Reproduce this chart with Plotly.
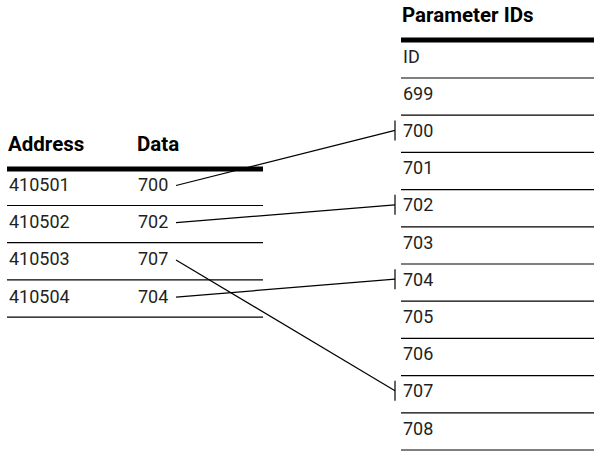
import plotly.graph_objects as go

# 数据
addresses = ["410501", "410502", "410503", "410504"]
data_values = ["700", "702", "707", "704"]
param_ids = ["ID", "699", "700", "701", "702", "703", "704", "705", "706", "707", "708"]

FONT = "Roboto, Liberation Sans, sans-serif"
TEXT_COLOR = "#231f20"
W, H = 594, 451
PITCH = 37.2

# 左表布局
L_X0, L_X1 = 7, 263
L_DATA_X = 136
L_RULE_Y = 169
L_TEXT_Y0 = 184.5

# 右表布局
R_X0, R_X1 = 401, 594
R_RULE_Y = 40
R_TEXT_Y0 = 56
TICK_X = 395
LINE_START_X = 176

fig = go.Figure()
shapes = []
annotations = []


def add_text(x, y, text, bold=False):
    annotations.append(dict(
        x=x, y=y, xref="x", yref="y", text=f"<b>{text}</b>" if bold else text,
        showarrow=False, xanchor="left", yanchor="middle",
        font=dict(family=FONT, size=20.5 if bold else 18,
                  color="#000000" if bold else TEXT_COLOR)
    ))


def add_line(x0, y0, x1, y1, width=1.2):
    shapes.append(dict(type="line", x0=x0, y0=y0, x1=x1, y1=y1, xref="x", yref="y",
                       line=dict(color="#000000", width=width)))


# 左表
add_text(L_X0 - 1, L_RULE_Y - 25, "Address", bold=True)
add_text(L_DATA_X - 1, L_RULE_Y - 25, "Data", bold=True)
add_line(L_X0, L_RULE_Y, L_X1, L_RULE_Y, width=5)
for j, (addr, val) in enumerate(zip(addresses, data_values)):
    y = L_TEXT_Y0 + j * PITCH
    add_text(L_X0, y, addr)
    add_text(L_DATA_X, y, val)
    add_line(L_X0, L_RULE_Y + 36.5 + j * PITCH, L_X1, L_RULE_Y + 36.5 + j * PITCH)

# 右表
add_text(R_X0 - 1, R_RULE_Y - 25, "Parameter IDs", bold=True)
add_line(R_X0, R_RULE_Y, R_X1, R_RULE_Y, width=5)
for i, pid in enumerate(param_ids):
    y = R_TEXT_Y0 + i * PITCH
    add_text(R_X0, y, pid)
    add_line(R_X0, R_RULE_Y + 38 + i * PITCH, R_X1, R_RULE_Y + 38 + i * PITCH)

# 连接线
for j, val in enumerate(data_values):
    i = param_ids.index(val)
    y0 = L_TEXT_Y0 + j * PITCH + 1
    y1 = R_TEXT_Y0 + i * PITCH
    fig.add_trace(go.Scatter(x=[LINE_START_X, TICK_X], y=[y0, y1], mode="lines",
                             line=dict(color="#000000", width=1.2),
                             hoverinfo="skip", showlegend=False))
    add_line(TICK_X, y1 - 10, TICK_X, y1 + 10)

fig.update_layout(
    width=W, height=H,
    margin=dict(l=0, r=0, t=0, b=0),
    paper_bgcolor="white", plot_bgcolor="white",
    xaxis=dict(range=[0, W], visible=False, fixedrange=True),
    yaxis=dict(range=[H, 0], visible=False, fixedrange=True),
    shapes=shapes, annotations=annotations,
    showlegend=False
)

fig.write_html("out.html", config={"displayModeBar": False},
               post_script="document.body.style.margin='0';document.body.style.overflow='hidden';")
